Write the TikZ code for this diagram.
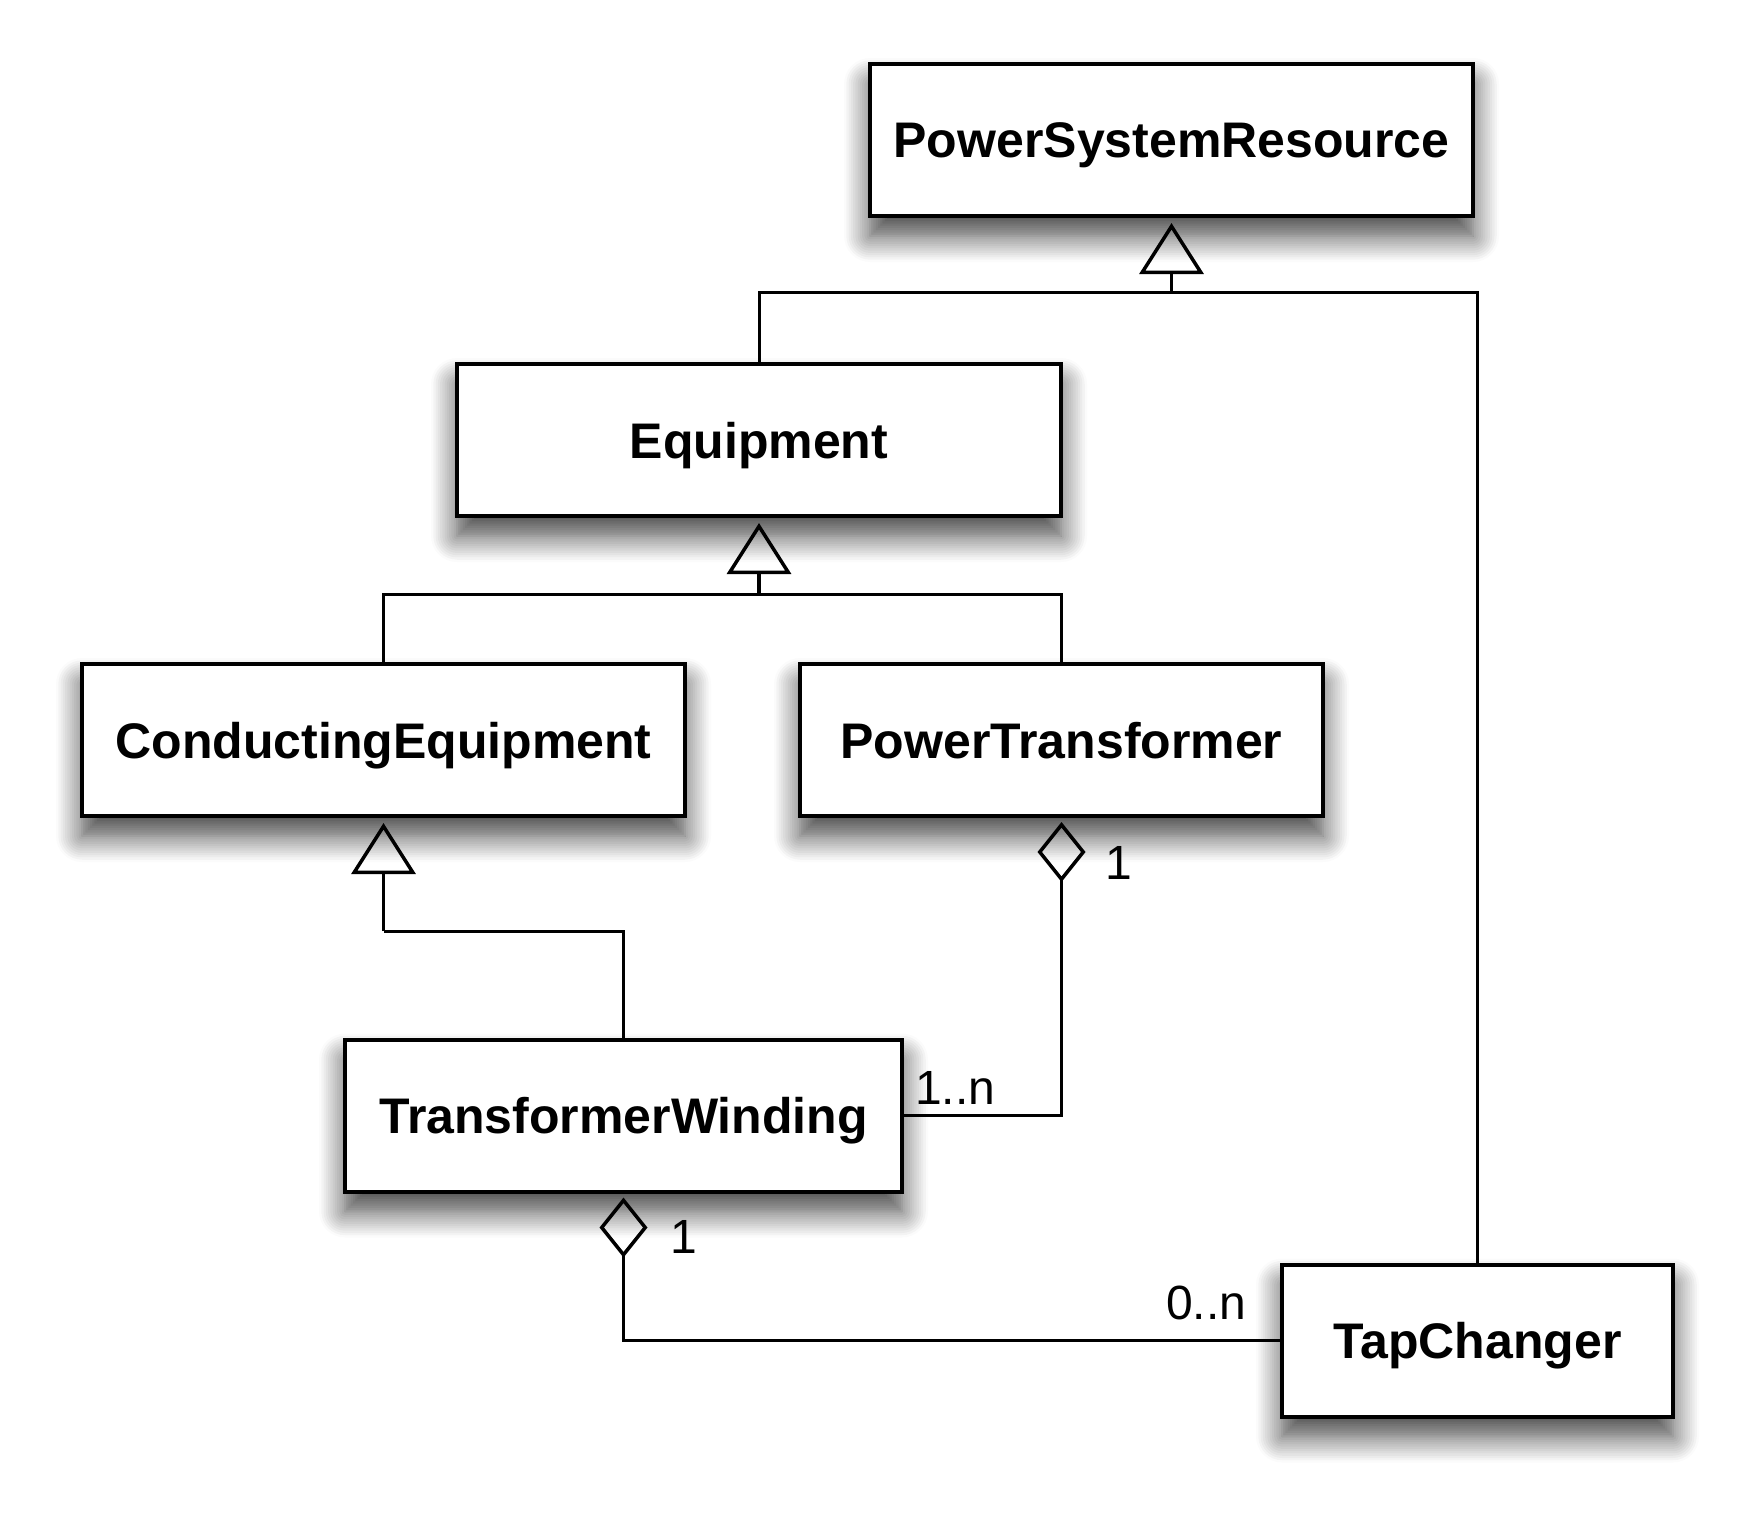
\documentclass[tikz,border=0pt]{standalone}
\usepackage{fontspec}
\setmainfont{Liberation Sans}
\usetikzlibrary{arrows.meta,shadows.blur}
\tikzset{
  class/.style={draw, line width=4pt, fill=white, inner sep=0pt,
    font=\fontsize{50}{60}\selectfont\bfseries,
    minimum height=152pt, text height=36pt, text depth=0pt,
    blur shadow={shadow xshift=0pt, shadow yshift=-20pt,
      shadow blur radius=26pt, shadow blur steps=12, shadow opacity=75}},
  link/.style={line width=3pt},
  gen/.style={line width=3.5pt, shorten >=5pt,
    -{Triangle[open, length=51pt, width=64pt]}},
  aggr/.style={line width=3.5pt, shorten <=4pt,
    {Diamond[open, length=60pt, width=48pt]}-},
  mult/.style={font=\fontsize{48}{58}\selectfont, inner sep=0pt, anchor=base west}
}
\begin{document}
\begin{tikzpicture}[x=1pt, y=-1pt]
  \useasboundingbox (0,0) rectangle (1755,1517);

  % classes
  \node[class, minimum width=603pt] (psr) at (1171.5,140) {PowerSystemResource};
  \node[class, minimum width=604pt] (eq) at (759,440) {Equipment};
  \node[class, minimum width=603pt] (ce) at (383.5,740) {ConductingEquipment};
  \node[class, minimum width=523pt] (pt) at (1061.5,740) {PowerTransformer};
  \node[class, minimum width=557pt] (tw) at (623.5,1115.5) {TransformerWinding};
  \node[class, minimum width=391pt] (tc) at (1477.5,1340.5) {TapChanger};

  % generalizations
  \coordinate (psrjoin) at (1171.5,292);
  \draw[link] (eq.north) |- (psrjoin) -| (tc.north);
  \draw[gen] (psrjoin) -- (psr.south);

  \coordinate (eqjoin) at (759,594);
  \draw[link] (ce.north) |- (eqjoin) -| (pt.north);
  \draw[gen] (eqjoin) -- (eq.south);

  \coordinate (cejoin) at (383.5,931);
  \draw[link] (tw.north) |- (cejoin);
  \draw[gen] (cejoin) -- (ce.south);

  % aggregations
  \draw[aggr] (pt.south) |- (tw.east);
  \draw[aggr] (tw.south) |- (tc.west);

  % multiplicities
  \node[mult] (ptone) at (1105,879) {1};
  \node[mult] (twmany) at (915,1104) {1..n};
  \node[mult] (twone) at (670,1253) {1};
  \node[mult] (tcmany) at (1166,1319) {0..n};
\end{tikzpicture}
\end{document}
